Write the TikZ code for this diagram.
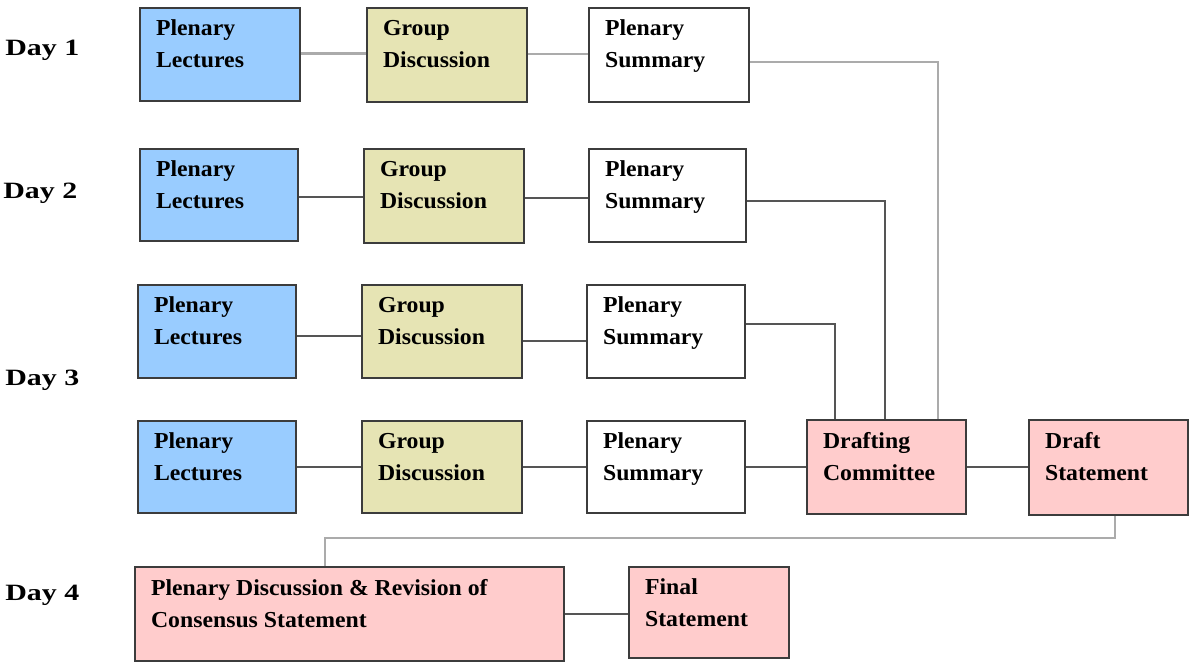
\documentclass[tikz,border=0pt]{standalone}
\usepackage{fontspec}
\setmainfont{Liberation Serif}
\newfontfamily\dayfont{Liberation Serif}[FakeStretch=1.28]
\newfontfamily\boxfont{Liberation Serif}[FakeStretch=1.04]
\newlength\pxu \setlength\pxu{0.02cm}
\definecolor{bluefill}{HTML}{99CCFF}
\definecolor{yellowfill}{HTML}{E6E4B4}
\definecolor{pinkfill}{HTML}{FFCCCC}
\definecolor{boxedge}{HTML}{3C3C3C}
\definecolor{darkline}{HTML}{555555}
\definecolor{lightline}{HTML}{ABABAB}
\tikzset{
  boxbase/.style={draw=boxedge, line width=1.2pt},
  bluebox/.style={boxbase, fill=bluefill},
  yellowbox/.style={boxbase, fill=yellowfill},
  whitebox/.style={boxbase, fill=white},
  pinkbox/.style={boxbase, fill=pinkfill},
  darkconn/.style={draw=darkline, line width=1.3pt},
  lightconn/.style={draw=lightline, line width=1.3pt},
  daylabel/.style={anchor=west, inner sep=0pt, font=\dayfont\bfseries\fontsize{13.3}{15}\selectfont}
}
% name, style, x, y, w, h, text
\newcommand\bx[7]{%
  \node[#2, anchor=north west, inner sep=0pt, minimum width=#5\pxu, minimum height=#6\pxu] (#1) at (#3,#4)
  {\parbox[t][#6\pxu][t]{#5\pxu}{\boxfont\bfseries\fontsize{13}{18.2}\selectfont\baselineskip=32\pxu
   \vspace*{12\pxu}\leftskip=16\pxu\rightskip=0pt plus 1fill\relax #7\par}};}
\begin{document}
\begin{tikzpicture}[x=0.02cm, y=-0.02cm]
\useasboundingbox (0,0) rectangle (1189,662);
% Day labels
\node[daylabel] (d1) at (5,50) {Day 1};
\node[daylabel] (d2) at (3,193) {Day 2};
\node[daylabel] (d3) at (5,380) {Day 3};
\node[daylabel] (d4) at (5,595) {Day 4};
% Row 1
\bx{pl1}{bluebox}{139}{7}{160}{93}{Plenary\\Lectures}
\bx{gd1}{yellowbox}{366}{7}{160}{94}{Group\\Discussion}
\bx{ps1}{whitebox}{588}{7}{160}{94}{Plenary\\Summary}
% Row 2
\bx{pl2}{bluebox}{139}{148}{158}{92}{Plenary\\Lectures}
\bx{gd2}{yellowbox}{363}{148}{160}{94}{Group\\Discussion}
\bx{ps2}{whitebox}{588}{148}{157}{93}{Plenary\\Summary}
% Row 3
\bx{pl3}{bluebox}{137}{284}{158}{93}{Plenary\\Lectures}
\bx{gd3}{yellowbox}{361}{284}{160}{93}{Group\\Discussion}
\bx{ps3}{whitebox}{586}{284}{158}{93}{Plenary\\Summary}
% Row 4
\bx{pl4}{bluebox}{137}{420}{158}{92}{Plenary\\Lectures}
\bx{gd4}{yellowbox}{361}{420}{160}{92}{Group\\Discussion}
\bx{ps4}{whitebox}{586}{420}{158}{92}{Plenary\\Summary}
\bx{dc}{pinkbox}{806}{419}{159}{94}{Drafting\\Committee}
\bx{ds}{pinkbox}{1028}{419}{159}{95}{Draft\\Statement}
% Day 4
\bx{pd}{pinkbox}{134}{566}{429}{94}{Plenary Discussion \& Revision of\\Consensus Statement}
\bx{fs}{pinkbox}{628}{566}{160}{91}{Final\\Statement}
% connectors
\draw[lightconn] ([yshift=1\pxu]pl1.east) -- ([yshift=1\pxu]pl1.east -| gd1.west);
\draw[lightconn] ([yshift=1\pxu]gd1.east) -- ([yshift=1\pxu]gd1.east -| ps1.west);
\draw[darkconn] ([yshift=-2\pxu]pl2.east) -- ([yshift=-2\pxu]pl2.east -| gd2.west);
\draw[darkconn] ([yshift=-2\pxu]gd2.east) -- ([yshift=-2\pxu]gd2.east -| ps2.west);
\draw[darkconn] ([yshift=-4.5\pxu]pl3.east) -- ([yshift=-4.5\pxu]pl3.east -| gd3.west);
\draw[darkconn] ([yshift=-9.5\pxu]gd3.east) -- ([yshift=-9.5\pxu]gd3.east -| ps3.west);
\draw[darkconn] (pl4.east) -- (pl4.east -| gd4.west);
\draw[darkconn] (gd4.east) -- (gd4.east -| ps4.west);
\draw[darkconn] (ps4.east) -- (ps4.east -| dc.west);
\draw[darkconn] (dc.east) -- (dc.east -| ds.west);
\draw[lightconn] ([yshift=-7\pxu]ps1.east) -| ([xshift=132\pxu]dc.north west);
\draw[darkconn] ([yshift=-5.5\pxu]ps2.east) -| ([xshift=79\pxu]dc.north west);
\draw[darkconn] ([yshift=7.5\pxu]ps3.east) -| ([xshift=29\pxu]dc.north west);
\coordinate (mid) at (700,538);
\draw[lightconn] ([xshift=87\pxu]ds.south west) -- ([xshift=87\pxu]ds.south west |- mid) -| ([xshift=191\pxu]pd.north west);
\draw[darkconn] (pd.east) -- (pd.east -| fs.west);
\end{tikzpicture}
\end{document}
